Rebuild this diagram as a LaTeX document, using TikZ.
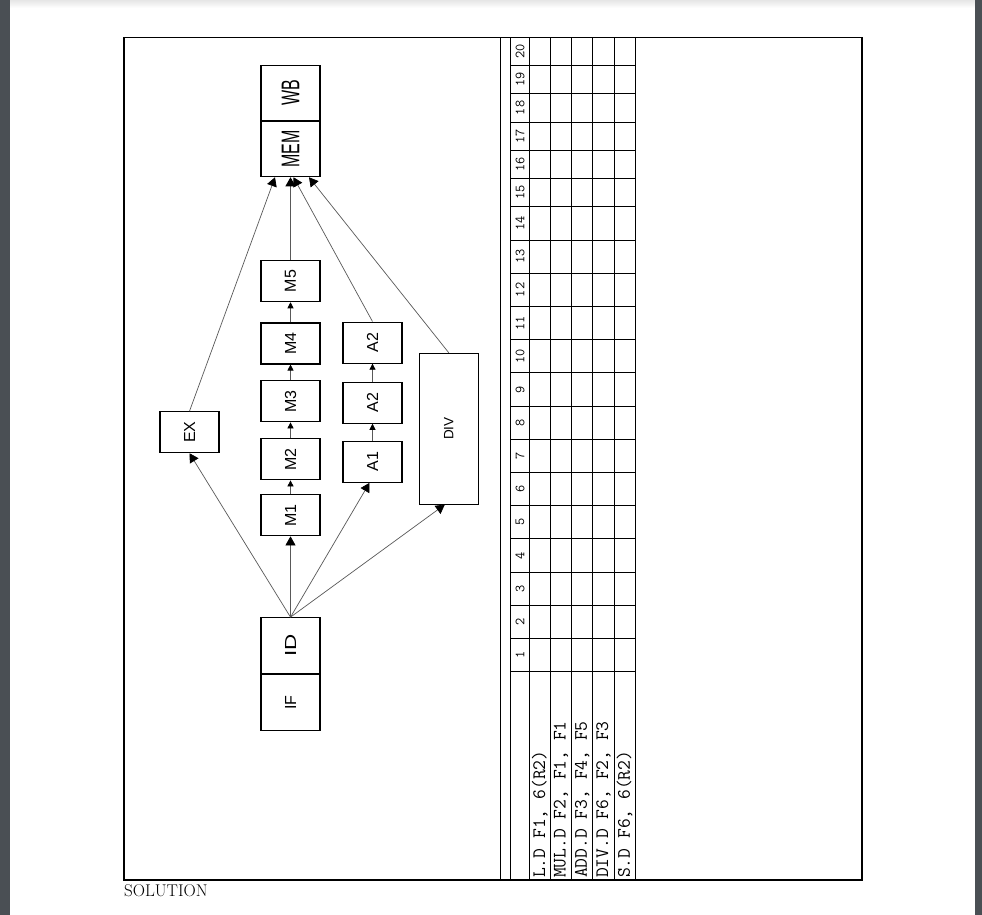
\documentclass[tikz,border=0pt]{standalone}
\usepackage{graphicx}
\usepackage{fontspec}
\newfontfamily\boxfont{Liberation Sans}
\usetikzlibrary{positioning,arrows.meta}
\definecolor{viewer}{HTML}{4A4F54}
\newcommand{\vtext}[1]{\rotatebox{90}{#1}}
\tikzset{
stage/.style={draw, line width=1.1pt, minimum width=59pt, minimum height=41pt, inner sep=0pt,
  font=\boxfont\fontsize{16}{18}\selectfont},
bigstage/.style={stage, minimum height=55.5pt},
feed/.style={-{Triangle[length=9pt,width=10pt,black]}, draw=black!65, line width=0.7pt},
hop/.style={-{Triangle[length=6pt,width=6pt,black]}, draw=black!65, line width=0.7pt},
grid/.style={line width=0.9pt},
cycle/.style={inner sep=0pt, font=\ttfamily\fontsize{14}{14}\selectfont},
instr/.style={anchor=south, inner sep=2pt, font=\ttfamily\fontsize{19}{19}\selectfont},
}

\begin{document}
\begin{tikzpicture}[x=1pt, y=-1pt]
    \useasboundingbox (0,0) rectangle (982,915);

    % viewer page
    \fill[white] (10,0) rectangle (975,915);
    \shade[top color=black!10, bottom color=white] (10,0) rectangle (975,8);
    \fill[viewer] (0,0) rectangle (10,915);
    \fill[viewer] (975,0) rectangle (982,915);

    % frame
    \draw[line width=1.2pt] (124,37.3) rectangle (862,880);
    \draw[line width=1pt] (500,37.3) -- (500,880);

    % pipeline stages
    \node [bigstage, minimum height=55pt] (mem) at (290.5,149.2) {\vtext{\scalebox{1}[1.6]{MEM}}};
    \node [bigstage, minimum height=55pt] (wb) [above=0pt of mem] {\vtext{\scalebox{1}[1.6]{WB}}};
    \draw[line width=2.2pt] (mem.north west) -- (mem.north east);

    \node [stage] (m5) at (290.5,281.2) {\vtext{M5}};
    \node [stage] (m4) at (290.5,343.5) {\vtext{M4}};
    \node [stage] (m3) at (290.5,401.3) {\vtext{M3}};
    \node [stage] (m2) at (290.5,459.3) {\vtext{M2}};
    \node [stage] (m1) at (290.5,515.3) {\vtext{M1}};

    \node [stage] (ex) at (189.5,432.2) {\vtext{EX}};

    \node [stage] (a2b) at (372.5,342.6) {\vtext{A2}};
    \node [stage] (a2a) at (372.5,402.7) {\vtext{A2}};
    \node [stage] (a1) at (372.5,461.8) {\vtext{A1}};

    \node [stage, minimum height=150.7pt, font=\boxfont\fontsize{13.5}{15}\selectfont] (div) at (448.8,428.7) {\vtext{DIV}};

    \node [bigstage, minimum height=55.6pt] (id) at (290.5,645.5) {\vtext{\scalebox{1.4}[1]{ID}}};
    \node [bigstage, minimum height=56pt] (if) [below=0pt of id] {\vtext{IF}};

    \draw[feed] (id.north) -- (ex.south);
    \draw[feed] (id.north) -- (m1.south);
    \draw[feed] (id.north) -- ([xshift=-3pt]a1.south);
    \draw[feed] (id.north) -- ([xshift=-4pt]div.south);
    \draw[hop] (m1) -- (m2);
    \draw[hop] (m2) -- (m3);
    \draw[hop] (m3) -- (m4);
    \draw[hop] (m4) -- (m5);
    \draw[hop] (a1) -- (a2a);
    \draw[hop] (a2a) -- (a2b);
    \draw[feed] (ex.north) -- ([xshift=-15.5pt]mem.south);
    \draw[feed] (m5.north) -- (mem.south);
    \draw[feed] (a2b.north) -- ([xshift=3pt]mem.south);
    \draw[feed] (div.north) -- ([xshift=18.5pt]mem.south);

    % cycle table
    \foreach \x in {510.7,529.3,550.3,571.7,592.7,614,635}
        \draw[grid] (\x,37.3) -- (\x,880);
    \foreach \j in {0,...,14}
        \draw[grid] (510.7,{671.7-33.21*\j}) -- (635,{671.7-33.21*\j});
    \foreach \j in {1,...,5}
        \draw[grid] (510.7,{206.76-28.23*\j}) -- (635,{206.76-28.23*\j});
    \foreach \k in {1,...,14}
        \node [cycle] (c\k) at (520,{671.7-33.21*(\k-1)-16.6}) {\vtext{\k}};
    \foreach \k in {15,...,20}
        \node [cycle] (c\k) at (520,{206.76-28.23*(\k-15)-14.1}) {\vtext{\k}};

    \node [instr] (ld) at (539.8,880) {\vtext{L.D F1, 6(R2)}};
    \node [instr] (mul) at (561,880) {\vtext{MUL.D F2, F1, F1}};
    \node [instr] (add) at (582.2,880) {\vtext{ADD.D F3, F4, F5}};
    \node [instr] (dv) at (603.4,880) {\vtext{DIV.D F6, F2, F3}};
    \node [instr] (sd) at (624.5,880) {\vtext{S.D F6, 6(R2)}};

    \node [anchor=base west, inner sep=0pt, font=\fontsize{17}{17}\selectfont] (sol) at (124,896) {SOLUTION};

\end{tikzpicture}
\end{document}
